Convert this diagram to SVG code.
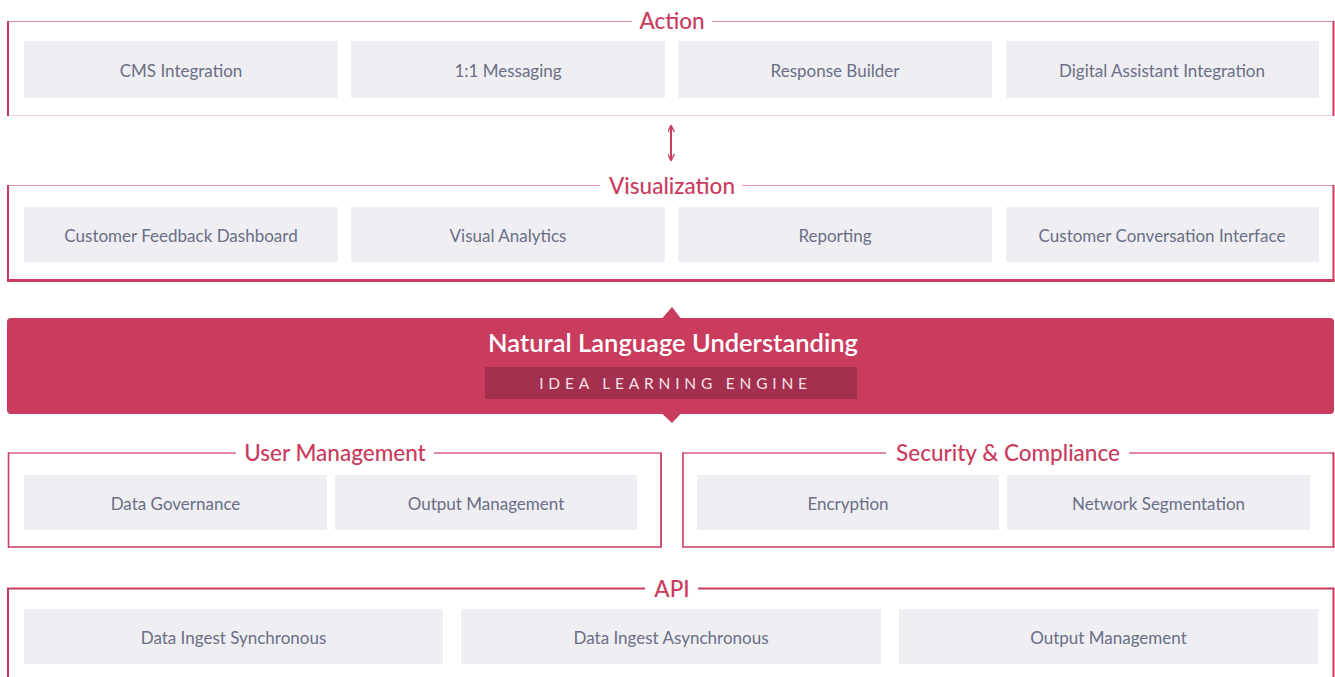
<svg xmlns="http://www.w3.org/2000/svg" width="1335" height="677" viewBox="0 0 1335 677">
<defs>
<style>
.card{fill:#eeeef3}
.ct{font-family:Lato,"Liberation Sans",sans-serif;font-size:17px;fill:#6b6e86;text-anchor:middle}
.tt{font-family:Lato,"Liberation Sans",sans-serif;font-size:22.5px;fill:#c93c5e;text-anchor:middle;font-weight:500}
.side{stroke:#c93c5e;stroke-width:2;fill:none}
</style>
<marker id="ah" viewBox="0 0 10 10" refX="9" refY="5" markerWidth="7" markerHeight="7" orient="auto-start-reverse" markerUnits="userSpaceOnUse"><path d="M0,0 L10,5 L0,10" fill="none" stroke="#c93c5e" stroke-width="2"/></marker>
</defs>
<rect width="1335" height="677" fill="#ffffff"/>

<g id="action">
<line x1="8" y1="21.5" x2="632" y2="21.5" stroke="#e08ca1" stroke-width="1"/>
<line x1="712" y1="21.5" x2="1334" y2="21.5" stroke="#e08ca1" stroke-width="1"/>
<line x1="8" y1="115.5" x2="1334" y2="115.5" stroke="#f3d6de" stroke-width="1"/>
<line x1="8" y1="21" x2="8" y2="116" class="side"/>
<line x1="1333.5" y1="21" x2="1333.5" y2="116" class="side"/>
<text x="672" y="28.5" class="tt">Action</text>
<g id="a1"><rect x="24" y="41" width="314" height="57" class="card"/><text x="181" y="76.5" class="ct">CMS Integration</text></g>
<g id="a2"><rect x="351" y="41" width="314" height="57" class="card"/><text x="508" y="76.5" class="ct">1:1 Messaging</text></g>
<g id="a3"><rect x="678" y="41" width="314" height="57" class="card"/><text x="835" y="76.5" class="ct">Response Builder</text></g>
<g id="a4"><rect x="1006" y="41" width="313" height="57" class="card"/><text x="1162" y="76.5" class="ct">Digital Assistant Integration</text></g>
</g>

<g id="connectors">
<line x1="671" y1="126" x2="671" y2="160" stroke="#c93c5e" stroke-width="2" marker-start="url(#ah)" marker-end="url(#ah)"/>
</g>

<g id="visualization">
<line x1="8" y1="185.5" x2="600" y2="185.5" stroke="#e390a4" stroke-width="1"/>
<line x1="742" y1="185.5" x2="1334" y2="185.5" stroke="#e390a4" stroke-width="1"/>
<line x1="7" y1="280.5" x2="1334.5" y2="280.5" stroke="#c93c5e" stroke-width="3"/>
<line x1="8" y1="185" x2="8" y2="281" class="side"/>
<line x1="1333.5" y1="185" x2="1333.5" y2="281" class="side"/>
<text x="672" y="193.5" class="tt">Visualization</text>
<g id="v1"><rect x="24" y="207" width="314" height="55" class="card"/><text x="181" y="241.5" class="ct">Customer Feedback Dashboard</text></g>
<g id="v2"><rect x="351" y="207" width="314" height="55" class="card"/><text x="508" y="241.5" class="ct">Visual Analytics</text></g>
<g id="v3"><rect x="678" y="207" width="314" height="55" class="card"/><text x="835" y="241.5" class="ct">Reporting</text></g>
<g id="v4"><rect x="1006" y="207" width="313" height="55" class="card"/><text x="1162" y="241.5" class="ct">Customer Conversation Interface</text></g>
</g>

<g id="nlu">
<rect x="7" y="318" width="1327" height="96" rx="4" fill="#c93c5e"/>
<polygon points="662,318.5 672,307 681,318.5" fill="#c93c5e"/>
<polygon points="662,413.5 672,423 681,413.5" fill="#c93c5e"/>
<text x="673" y="352" font-family="Lato,'Liberation Sans',sans-serif" font-size="25.5" font-weight="600" fill="#ffffff" text-anchor="middle">Natural Language Understanding</text>
<rect x="485" y="367" width="372" height="32" fill="#a3304e"/>
<text x="675.5" y="389" font-family="Lato,'Liberation Sans',sans-serif" font-size="15.5" letter-spacing="4.8" fill="#f6e2e7" text-anchor="middle">IDEA LEARNING ENGINE</text>
</g>

<g id="usermgmt">
<line x1="8" y1="453" x2="236" y2="453" stroke="#d9607e" stroke-width="1.3"/>
<line x1="434" y1="453" x2="661" y2="453" stroke="#d9607e" stroke-width="1.3"/>
<line x1="8" y1="547" x2="661.5" y2="547" stroke="#c93c5e" stroke-width="1.6"/>
<line x1="8.5" y1="452.5" x2="8.5" y2="547.5" stroke="#c93c5e" stroke-width="1.6"/>
<line x1="661" y1="452.5" x2="661" y2="547.5" stroke="#c93c5e" stroke-width="1.8"/>
<text x="335" y="460.5" class="tt">User Management</text>
<g id="u1"><rect x="24" y="475" width="303" height="55" class="card"/><text x="175.5" y="509.5" class="ct">Data Governance</text></g>
<g id="u2"><rect x="335" y="475" width="302" height="55" class="card"/><text x="486" y="509.5" class="ct">Output Management</text></g>
</g>

<g id="security">
<line x1="682.5" y1="453" x2="886" y2="453" stroke="#d9607e" stroke-width="1.3"/>
<line x1="1129" y1="453" x2="1334" y2="453" stroke="#d9607e" stroke-width="1.3"/>
<line x1="682.5" y1="547" x2="1334.5" y2="547" stroke="#c93c5e" stroke-width="1.6"/>
<line x1="683" y1="452.5" x2="683" y2="547.5" stroke="#c93c5e" stroke-width="1.6"/>
<line x1="1333.5" y1="452.5" x2="1333.5" y2="547.5" stroke="#c93c5e" stroke-width="2"/>
<text x="1008" y="460.5" class="tt">Security &amp; Compliance</text>
<g id="s1"><rect x="697" y="475" width="302" height="55" class="card"/><text x="848" y="509.5" class="ct">Encryption</text></g>
<g id="s2"><rect x="1007" y="475" width="303" height="55" class="card"/><text x="1158.5" y="509.5" class="ct">Network Segmentation</text></g>
</g>

<g id="api">
<line x1="7" y1="588.5" x2="645" y2="588.5" stroke="#c93c5e" stroke-width="2"/>
<line x1="698" y1="588.5" x2="1334.5" y2="588.5" stroke="#c93c5e" stroke-width="2"/>
<line x1="8" y1="588" x2="8" y2="677" class="side"/>
<line x1="1333.5" y1="588" x2="1333.5" y2="677" class="side"/>
<text x="672" y="596.5" class="tt">API</text>
<g id="p1"><rect x="24" y="609" width="419" height="55" class="card"/><text x="233.5" y="643.5" class="ct">Data Ingest Synchronous</text></g>
<g id="p2"><rect x="461" y="609" width="420" height="55" class="card"/><text x="671" y="643.5" class="ct">Data Ingest Asynchronous</text></g>
<g id="p3"><rect x="899" y="609" width="419" height="55" class="card"/><text x="1108.5" y="643.5" class="ct">Output Management</text></g>
</g>
</svg>
